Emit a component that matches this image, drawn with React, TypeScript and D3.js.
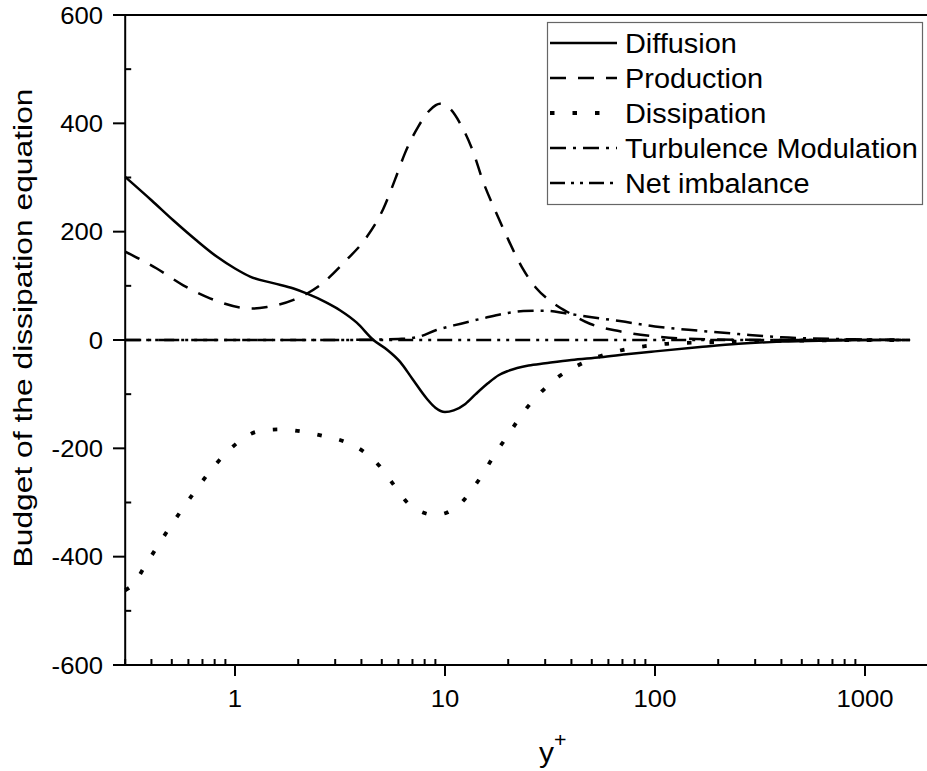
import React from "react";
import * as d3 from "d3";

const diffX = [0.3, 0.4, 0.508, 0.65, 0.818, 1.0, 1.18, 1.52, 1.9, 2.19, 2.7, 3.16, 3.8, 4.56, 5.3, 6.1, 7.0, 8.18, 9.0, 10.0, 11.0, 12.5, 14.0, 16.0, 18.0, 20.0, 25.0, 30.0, 40.0, 55.0, 75.0, 100.0, 164.0, 250.0, 400.0, 700.0, 1000.0, 1640.0];
const diffY = [301, 258, 221, 185, 154, 132, 117, 105, 95, 86, 70, 55, 32, 0, -18, -40, -72, -108, -125, -133, -130, -118, -100, -80, -65, -57, -47, -43, -37, -32, -26, -21, -13, -7, -3, -1, 0, 0];

const prodX = [0.3, 0.424, 0.567, 0.76, 1.06, 1.2, 1.42, 1.9, 2.54, 3.4, 4.24, 5.08, 5.78, 6.45, 7.46, 8.5, 9.46, 10.5, 11.8, 13.6, 15.2, 17.3, 19.7, 23.2, 27.3, 32.8, 39.4, 49.0, 68.0, 95.0, 130.0, 200.0, 400.0, 1640.0];
const prodY = [163, 132, 101, 77, 60, 58, 61, 74, 101, 148, 190, 242, 296, 345, 394, 425, 436, 428, 400, 348, 292, 240, 191, 135, 95, 68, 49, 30, 16, 7.5, 3, 1, 0, 0];

const dissX = [0.3, 0.326, 0.373, 0.424, 0.485, 0.557, 0.64, 0.741, 0.87, 1.04, 1.28, 1.64, 2.08, 2.63, 3.34, 4.13, 4.94, 5.72, 6.61, 7.8, 9.0, 10.3, 12.0, 13.5, 15.0, 17.0, 20.0, 24.0, 28.9, 34.7, 42.4, 52.7, 64.5, 80.0, 100.0, 120.0, 150.0, 250.0, 500.0, 1640.0];
const dissY = [-462, -452, -417, -383, -348, -314, -281, -248, -216, -188, -169, -165, -169, -177, -188, -207, -235, -268, -300, -318, -323, -318, -300, -275, -250, -215, -175, -130, -95, -68, -48, -32, -21.6, -14.2, -9.2, -6.2, -5, -3, -1, 0];

const tmX = [0.3, 1.0, 3.0, 4.0, 5.0, 6.0, 6.8, 7.5, 9.1, 11.0, 15.2, 20.0, 23.6, 30.0, 38.0, 50.0, 68.0, 100.0, 164.0, 250.0, 400.0, 700.0, 1000.0, 1640.0];
const tmY = [0, 0, 0, 0.5, 1, 2, 3, 6, 18.5, 27, 40, 50, 53.5, 54, 49, 42, 35, 25, 17, 11, 5, 2, 1, 0];

const netX = [0.3, 1.0, 10.0, 100.0, 1000.0, 1640.0];
const netY = [0, 0, 0, 0, 0, 0];

const seriesNames = ["Diffusion", "Production", "Dissipation", "Turbulence Modulation", "Net imbalance"];
const yTicks = [-600, -400, -200, 0, 200, 400, 600];
const yMinor = [-500, -300, -100, 100, 300, 500];
const xTicks = [1, 10, 100, 1000];
const xTickLabels = ["1", "10", "100", "1000"];

const FONT = "'Liberation Sans', Arial, sans-serif";
const SX = 1.07;

export default function App() {
  const W = 927, H = 771;
  const x = d3.scaleLog().domain([0.3, 2000]).range([125.2, 928.2]);
  const y = d3.scaleLinear().domain([-600, 600]).range([665, 15]);

  const xMinor: number[] = [];
  [0.1, 1, 10, 100].forEach((d) => {
    for (let k = 2; k <= 9; k++) {
      const v = d * k;
      if (v >= 0.3 && v <= 2000 && !xTicks.includes(v)) xMinor.push(v);
    }
  });

  const mk = (xs: number[], ys: number[]) =>
    d3.line<number>().x((_, i) => x(xs[i])).y((_, i) => y(ys[i])).curve(d3.curveMonotoneX)(xs) || "";

  const styles = [
    { dash: "", w: 2.5 },
    { dash: "16,12", w: 2.5 },
    { dash: "4.5,18", w: 3.8 },
    { dash: "16,7,3,7", w: 2.5 },
    { dash: "15,6,3,6,3,6", w: 2.5 },
  ];
  const data = [
    [diffX, diffY],
    [prodX, prodY],
    [dissX, dissY],
    [tmX, tmY],
    [netX, netY],
  ];

  const x0 = x.range()[0];
  const yb = y(-600);
  const yt = y(600);

  return (
    <svg width={W} height={H} style={{ position: "absolute", left: 0, top: 0, background: "#fff" }}>
      <rect x={0} y={0} width={W} height={H} fill="#fff" />
      {data.map((d, i) => (
        <path key={i} d={mk(d[0] as number[], d[1] as number[])} fill="none" stroke="#000"
          strokeWidth={styles[i].w} strokeDasharray={styles[i].dash || undefined} />
      ))}
      <line x1={x0} x2={x0} y1={yt} y2={yb} stroke="#000" strokeWidth={2} />
      <line x1={113} x2={W} y1={yb} y2={yb} stroke="#000" strokeWidth={2} />
      <line x1={113} x2={W} y1={yt} y2={yt} stroke="#000" strokeWidth={2} />
      {yTicks.map((t) => (
        <g key={"yt" + t}>
          <line x1={113} x2={x0} y1={y(t)} y2={y(t)} stroke="#000" strokeWidth={2} />
          <text transform={`translate(103,${y(t)}) scale(${SX},1)`} dy="0.36em" textAnchor="end" fontFamily={FONT} fontSize={24} fill="#000">{t}</text>
        </g>
      ))}
      {yMinor.map((t) => (
        <line key={"ym" + t} x1={x0} x2={x0 + 6} y1={y(t)} y2={y(t)} stroke="#000" strokeWidth={2} />
      ))}
      {xTicks.map((t, i) => (
        <g key={"xt" + t}>
          <line x1={x(t)} x2={x(t)} y1={yb} y2={yb + 11} stroke="#000" strokeWidth={2} />
          <text transform={`translate(${x(t)},707) scale(${SX},1)`} textAnchor="middle" fontFamily={FONT} fontSize={24} fill="#000">{xTickLabels[i]}</text>
        </g>
      ))}
      {xMinor.map((t) => (
        <line key={"xm" + t} x1={x(t)} x2={x(t)} y1={yb} y2={yb - 6} stroke="#000" strokeWidth={2} />
      ))}
      <text transform={`translate(539,762) scale(${SX},1)`} fontFamily={FONT} fontSize={28} fill="#000">y<tspan dy={-15} fontSize={20}>+</tspan></text>
      <text transform="translate(32,328) rotate(-90)" textAnchor="middle" fontFamily={FONT} fontSize={26} fill="#000"
        textLength={479} lengthAdjust="spacingAndGlyphs">Budget of the dissipation equation</text>
      <rect x={547.5} y={22.5} width={375} height={182} fill="#fff" stroke="#666" strokeWidth={1.2} />
      {seriesNames.map((n, i) => {
        const cy = 43 + i * 35;
        return (
          <g key={n}>
            <line x1={550} x2={617} y1={cy} y2={cy} stroke="#000" strokeWidth={styles[i].w}
              strokeDasharray={styles[i].dash || undefined} />
            <text transform={`translate(625,${cy + 9.8}) scale(${SX},1)`} fontFamily={FONT} fontSize={27} fill="#000">{n}</text>
          </g>
        );
      })}
    </svg>
  );
}
